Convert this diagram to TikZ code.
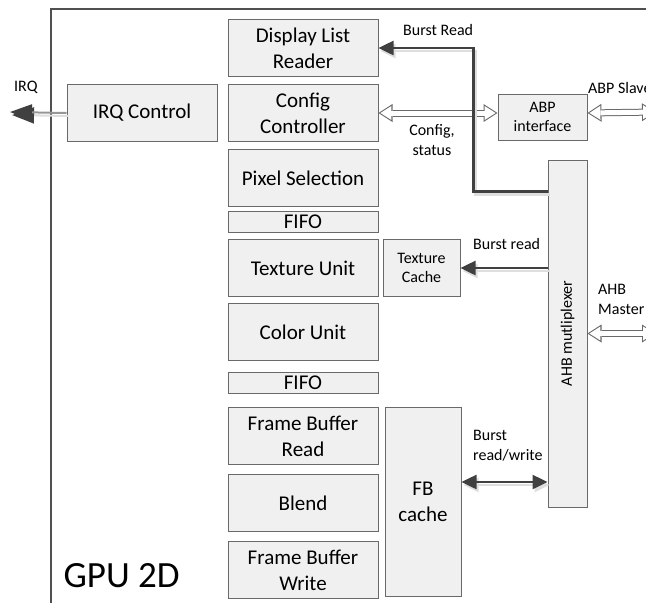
\documentclass[tikz,border=0pt]{standalone}
\usepackage{fontspec}
\setmainfont{Carlito}
\usetikzlibrary{positioning,arrows.meta}
\definecolor{boxFill}{RGB}{240,240,240}
\definecolor{boxDraw}{RGB}{105,105,105}
\definecolor{busGray}{RGB}{64,64,64}
\definecolor{shadowGray}{RGB}{222,222,222}
\definecolor{frameGray}{RGB}{80,80,80}
\definecolor{irqGray}{RGB}{150,150,150}

\begin{document}
\begin{tikzpicture}[
    x=1pt, y=1pt,
    node distance=7pt,
    % Styles
    block/.style={
        draw=boxDraw,
        line width=1pt,
        fill=boxFill,
        align=center,
        font=\fontsize{21}{26}\selectfont,
        minimum width=150pt,
        minimum height=57pt,
        inner sep=0pt
    },
    fifo/.style={block, minimum height=21pt},
    smallblock/.style={block, font=\fontsize{16}{19}\selectfont},
    frame/.style={
        draw=frameGray,
        line width=2pt,
        inner sep=0pt
    },
    lbl/.style={font=\fontsize{16}{20}\selectfont, align=left, inner sep=0pt},
    bus/.style={-{Triangle[length=15pt,width=14pt]}, line width=2.5pt, draw=busGray},
    shade/.style={draw=shadowGray, transform canvas={shift={(2pt,-3pt)}}},
    % hollow block arrows: dark outline pass, then white inside pass
    hollowout/.style={
        {Triangle[length=14pt,width=18pt,line width=0pt]}-{Triangle[length=14pt,width=18pt,line width=0pt]},
        draw=boxDraw, line width=7pt
    },
    hollowin/.style={
        {Triangle[length=11pt,width=14pt,line width=0pt]}-{Triangle[length=11pt,width=14pt,line width=0pt]},
        draw=white, line width=5pt, shorten <=1.9pt, shorten >=1.9pt
    },
    irqarrow/.style={-{Triangle[length=22pt,width=16pt,color=busGray]}, line width=2pt, draw=irqGray}
]
    \useasboundingbox (0,0) rectangle (646,-603);
    \clip (0,0) rectangle (646,-603);

    % ---------------------------------------------------------
    % FRAME
    % ---------------------------------------------------------
    \node[frame, anchor=north west, minimum width=700pt, minimum height=700pt] (gpu) at (50,-8) {};
    \node[font=\fontsize{37}{40}\selectfont, anchor=base west] (gputitle) at (60,-587) {GPU 2D};

    % ---------------------------------------------------------
    % PIPELINE COLUMN
    % ---------------------------------------------------------
    \node[block] (dlr) at (303,-48) {Display List\\Reader};
    \node[block, below=7pt of dlr] (cfg) {Config\\Controller};
    \node[block, below=7pt of cfg] (pixsel) {Pixel Selection};
    \node[fifo, below=4pt of pixsel] (fifoa) {FIFO};
    \node[block, below=6pt of fifoa] (texunit) {Texture Unit};
    \node[block, below=6pt of texunit] (colunit) {Color Unit};
    \node[fifo, below=11pt of colunit] (fifob) {FIFO};
    \node[block, below=13pt of fifob] (fbread) {Frame Buffer\\Read};
    \node[block, below=9pt of fbread] (blend) {Blend};
    \node[block, below=9pt of blend] (fbwrite) {Frame Buffer\\Write};

    % side blocks
    \node[block, left=10pt of cfg] (irq) {IRQ Control};
    \node[smallblock, minimum width=77pt, right=4pt of texunit] (texcache) {Texture\\Cache};
    \node[block, minimum width=76pt, minimum height=189pt,
          right=6pt of fbread.north east, anchor=north west] (fbcache) {FB\\cache};
    \node[smallblock, minimum width=89pt, minimum height=46pt] (abp) at (542.5,-117) {ABP\\interface};
    \node[block, minimum width=39pt, minimum height=347pt,
          label={[rotate=90, font=\fontsize{16}{19}\selectfont]center:AHB mutliplexer}] (ahbmux) at (567.5,-333.5) {};

    % free ends
    \coordinate (irqout) at (10,-112);
    \coordinate (abpslave) at (656,-112);
    \coordinate (ahbmaster) at (656,-333.5);
    \coordinate (ahbtap) at ([yshift=-32pt]ahbmux.north west);

    % ---------------------------------------------------------
    % CONNECTIONS
    % ---------------------------------------------------------
    % config bus
    \draw[hollowout] (cfg.east) -- (cfg.east -| abp.west);
    \draw[hollowin] (cfg.east) -- (cfg.east -| abp.west);
    \draw[hollowout] (abp.east |- cfg.east) -- (abpslave);
    \draw[hollowin] (abp.east |- cfg.east) -- (abpslave);
    \draw[hollowout] (ahbmux.east) -- (ahbmaster);
    \draw[hollowin] (ahbmux.east) -- (ahbmaster);

    % burst buses
    \draw[bus, shade] (ahbtap) -| ([xshift=95pt]dlr.east) -- (dlr.east);
    \draw[bus] (ahbtap) -| ([xshift=95pt]dlr.east) -- (dlr.east);
    \draw[bus, shade] (ahbmux.west |- texcache.east) -- (texcache.east);
    \draw[bus] (ahbmux.west |- texcache.east) -- (texcache.east);
    \draw[bus, shade, {Triangle[length=15pt,width=14pt]}-{Triangle[length=15pt,width=14pt]}] ([yshift=20pt]fbcache.east) -- ([yshift=20pt]fbcache.east -| ahbmux.west);
    \draw[bus, {Triangle[length=15pt,width=14pt]}-{Triangle[length=15pt,width=14pt]}] ([yshift=20pt]fbcache.east) -- ([yshift=20pt]fbcache.east -| ahbmux.west);

    % interrupt
    \draw[irqarrow, shade] (irq.west) -- (irqout);
    \draw[irqarrow] (irq.west) -- (irqout);

    % labels
    \node[lbl, anchor=west] (lblirq) at (14,-87) {IRQ};
    \node[lbl, anchor=west] (lblburstread) at (403,-30) {Burst Read};
    \node[lbl, align=center] (lblconfig) at (432,-140) {Config,\\status};
    \node[lbl, anchor=west] (lblabpslave) at (588,-88) {ABP Slave};
    \node[lbl, anchor=west] (lbltexread) at (473,-244) {Burst read};
    \node[lbl, anchor=west] (lblahbmaster) at (598,-299) {AHB\\Master};
    \node[lbl, anchor=west] (lblfbrw) at (473,-446) {Burst\\read/write};

\end{tikzpicture}
\end{document}
